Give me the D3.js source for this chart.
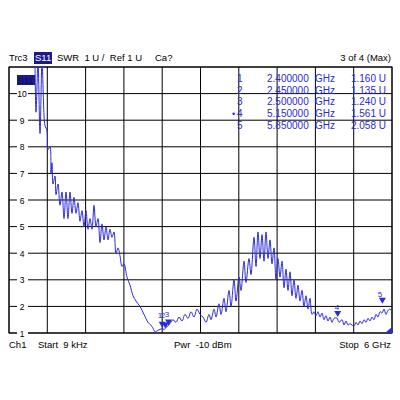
<!DOCTYPE html>
<html><head><meta charset="utf-8">
<script src="https://cdn.jsdelivr.net/npm/d3@7"></script>
<style>body{margin:0;background:#fff}svg{display:block;font-family:"Liberation Sans",Arial,sans-serif}</style>
</head><body><svg id="c" width="400" height="400"></svg>
<script>
// sweep point index (0..383 over 9 kHz..6 GHz) and SWR
const pts = [26,27,29,31,33,35,36,38,39,41,42,43,44,46,47,49,51,53,55,57,59,61,63,65,67,69,71,73,75,77,79,81,83,85,87,89,91,93,95,97,99,101,103,105,107,109,111,113,115,118,121,124,127,131,135,139,143,146,149,153,155,158,161,164,167,170,173,176,179,182,185,188,191,194,197,200,202,205,207,210,212,215,217,220,222,225,227,230,232,235,237,240,242,245,247,249,251,253,255,257,259,261,263,265,267,269,271,273,275,277,279,281,283,285,287,289,291,293,295,297,299,301,303,305,307,309,311,313,315,317,319,321,323,325,328,330,333,335,337,339,341,343,345,347,349,351,353,355,357,359,361,363,365,367,369,371,373,375,377,379,381,383];
const swr = [11.2,9.3,11.2,8.5,11.2,9.2,8.8,8.6,7.9,8.0,7.0,7.4,6.6,6.9,6.2,6.6,5.8,6.3,5.3,6.3,5.3,6.3,5.5,6.1,5.5,5.9,5.2,5.6,5.0,5.6,4.9,5.3,4.9,5.8,5.0,5.3,4.4,5.1,4.5,5.0,4.5,4.9,4.6,4.8,4.0,4.2,3.9,3.5,3.6,3.1,2.8,2.4,2.2,2.0,1.7,1.4,1.25,1.05,1.1,1.16,1.135,1.24,1.35,1.5,1.4,1.6,1.45,1.7,1.55,1.8,1.6,1.9,1.7,1.6,1.4,1.7,1.5,1.9,1.6,2.1,1.7,2.3,1.8,2.6,2.0,3.0,2.2,3.1,2.6,3.7,2.9,3.8,3.2,4.6,3.5,4.8,3.8,4.7,3.7,4.8,3.8,4.5,3.6,4.2,3.0,3.8,3.1,3.7,2.7,3.4,2.6,3.3,2.4,3.0,2.3,2.8,2.2,2.6,2.0,2.4,1.9,2.3,1.7,1.8,1.65,1.8,1.6,1.75,1.5,1.65,1.45,1.6,1.4,1.55,1.56,1.4,1.5,1.3,1.45,1.3,1.35,1.3,1.25,1.4,1.3,1.45,1.35,1.5,1.4,1.55,1.45,1.6,1.5,1.7,1.6,1.8,1.75,1.9,1.7,1.85,1.9,1.8];
const yTicks = [1,2,3,4,5,6,7,8,9,10];
const mkIds = ["1","2","3","4","5"];
const mkFreq = [2.4,2.45,2.5,5.15,5.85];
const mkVal = [1.160,1.135,1.240,1.561,2.058];

const svg = d3.select("#c");
const L=9,R=392,T=67,B=333, blue="#2a2ad8";
const x = d3.scaleLinear([0,383],[L,R]);
const xf = d3.scaleLinear([0.000009,6],[L,R]);
const y = d3.scaleLinear([1,11],[B,T]);

const g = svg.append("g");
d3.range(0,11).forEach(i=>{
  const xx=L+i*(R-L)/10;
  g.append("line").attr("x1",xx).attr("x2",xx).attr("y1",T).attr("y2",B).attr("stroke","#000");
});
yTicks.concat([11]).forEach(v=>{
  g.append("line").attr("x1",L).attr("x2",R).attr("y1",y(v)).attr("y2",y(v)).attr("stroke","#000");
});
g.append("rect").attr("x",L).attr("y",T).attr("width",R-L).attr("height",B-T).attr("fill","none").attr("stroke","#000");
yTicks.forEach(v=>{
  g.append("rect").attr("x",L+8).attr("y",y(v)-5).attr("width",11).attr("height",10).attr("fill","#fff");
  g.append("text").attr("x",L+13).attr("y",y(v)+3.5).attr("text-anchor","middle").attr("font-size",8.5).text(v);
});

// trace
svg.append("path").datum(pts.map((p,i)=>[p,swr[i]]))
  .attr("d",d3.line().curve(d3.curveCatmullRom).x(d=>x(d[0])).y(d=>y(Math.min(d[1],11.3))))
  .attr("fill","none").attr("stroke",blue).attr("stroke-width",1);
svg.append("rect").attr("x",L).attr("y",0).attr("width",R-L).attr("height",T-1).attr("fill","#fff");

// markers
mkFreq.forEach((f,i)=>{
  const mx=xf(f), my=y(mkVal[i]);
  svg.append("path").attr("d",`M${mx-3.5},${my-7}L${mx+3.5},${my-7}L${mx},${my-1}Z`).attr("fill",blue);
});
[["1",160,318],["2",163,318],["3",167,317],["4",337,310],["5",380,297]].forEach(d=>{
  svg.append("text").attr("x",d[1]).attr("y",d[2]).attr("text-anchor","middle").attr("font-size",8).attr("fill",blue).text(d[0]);
});
svg.append("path").attr("d",`M${R},${B-6}L${R},${B}L${R-7},${B}Z`).attr("fill",blue);

// marker table
mkIds.forEach((id,i)=>{
  const ty=82+i*11.7;
  svg.append("text").attr("x",237).attr("y",ty).attr("font-size",10).attr("fill",blue).text(id);
  svg.append("text").attr("x",267).attr("y",ty).attr("font-size",10).attr("fill",blue).text(mkFreq[i].toFixed(6));
  svg.append("text").attr("x",315).attr("y",ty).attr("font-size",10).attr("fill",blue).text("GHz");
  svg.append("text").attr("x",386).attr("y",ty).attr("text-anchor","end").attr("font-size",10).attr("fill",blue).text(mkVal[i].toFixed(3)+" U");
});
svg.append("text").attr("x",232).attr("y",82+3*11.7).attr("font-size",9).attr("fill",blue).text("•");

// S11 label box inside plot
svg.append("rect").attr("x",17).attr("y",75).attr("width",18).attr("height",10).attr("fill","#1a1a8c");
svg.append("text").attr("x",18).attr("y",83.5).attr("font-size",9).attr("fill","#0a0a60").text("S11");

// header / footer
svg.append("text").attr("x",9).attr("y",61).attr("font-size",9.5).text("Trc3");
svg.append("rect").attr("x",34).attr("y",52).attr("width",18).attr("height",12).attr("fill","#1a1a8c");
svg.append("text").attr("x",35).attr("y",61).attr("font-size",9.5).attr("fill","#fff").text("S11");
svg.append("text").attr("x",57).attr("y",61).attr("font-size",9.5).attr("xml:space","preserve").text("SWR  1 U /  Ref 1 U");
svg.append("text").attr("x",155).attr("y",61).attr("font-size",9.5).text("Ca?");
svg.append("text").attr("x",391).attr("y",61).attr("text-anchor","end").attr("font-size",9.5).text("3 of 4 (Max)");
svg.append("text").attr("x",9).attr("y",348).attr("font-size",9.5).text("Ch1");
svg.append("text").attr("x",38).attr("y",348).attr("font-size",9.5).attr("xml:space","preserve").text("Start  9 kHz");
svg.append("text").attr("x",174).attr("y",348).attr("font-size",9.5).attr("xml:space","preserve").text("Pwr  -10 dBm");
svg.append("text").attr("x",391).attr("y",348).attr("text-anchor","end").attr("font-size",9.5).attr("xml:space","preserve").text("Stop  6 GHz");
</script></body></html>
